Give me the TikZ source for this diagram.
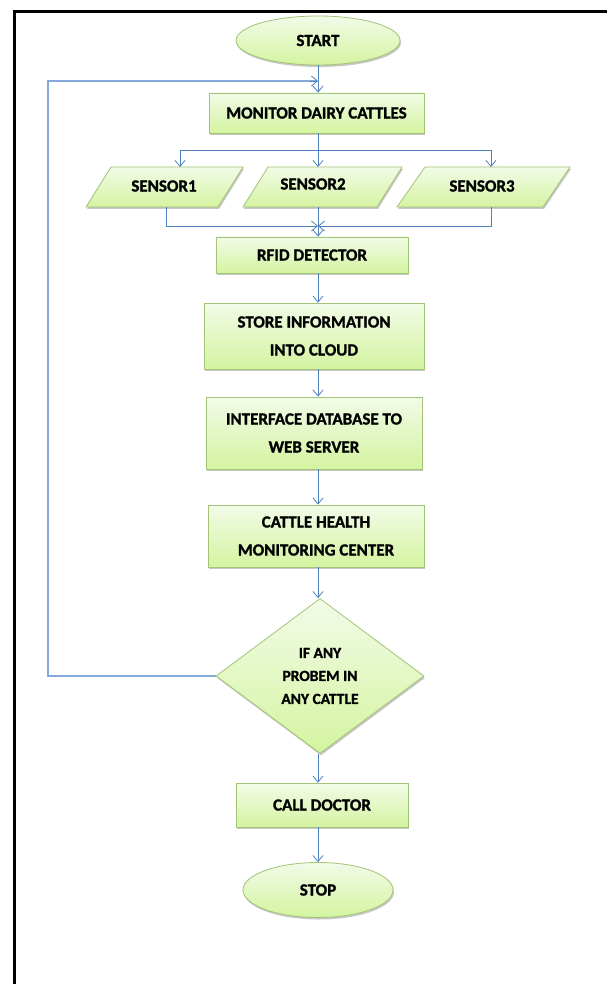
\documentclass[tikz,border=0pt]{standalone}
\usepackage{fontspec}
\setmainfont{Carlito}[BoldFeatures={FakeBold=1.2}]
\usetikzlibrary{arrows.meta,shapes.geometric,shadows}
\definecolor{gtop}{HTML}{F2FBE8}
\definecolor{gbot}{HTML}{D4F4A0}
\definecolor{gline}{HTML}{A3C476}
\definecolor{arr}{HTML}{4F81BD}
\definecolor{loopc}{HTML}{85A8DA}
\begin{document}
\begin{tikzpicture}[x=1pt,y=-1pt,
  shp/.style={draw=gline, line width=0.8pt, top color=gtop, bottom color=gbot,
    drop shadow={shadow xshift=1pt,shadow yshift=-2pt,opacity=0.22,fill=black}},
  box/.style={shp, rectangle, inner sep=0pt, align=center,
    font=\bfseries\fontsize{17}{28}\selectfont},
  oval/.style={shp, ellipse, inner sep=0pt, font=\bfseries\fontsize{17}{20}\selectfont},
  dec/.style={shp, diamond, inner sep=0pt, align=center,
    font=\bfseries\fontsize{15.5}{23}\selectfont},
  lbl/.style={inner sep=0pt, font=\bfseries\fontsize{17}{20}\selectfont},
  conn/.style={draw=arr, line width=0.8pt},
  arrowc/.style={conn, -{Straight Barb[length=6pt,width=10pt,line width=0.8pt]}},
  loopl/.style={draw=loopc, line width=1.2pt}
]
\useasboundingbox (0,0) rectangle (606,984);
\fill[white] (0,0) rectangle (606,984);
% frame
\draw[line width=3pt] (14.5,1000) -- (14.5,12) -- (620,12);

% nodes
\node[oval, minimum width=164pt, minimum height=49pt] (start) at (318,40.5) {START};
\node[box, minimum width=215pt, minimum height=40pt] (mon) at (316.5,113) {MONITOR DAIRY CATTLES};

\path[shp] (86,207) -- (218,207) -- (243,167) -- (111,167) -- cycle;
\path[shp] (243,207) -- (377,207) -- (402,167) -- (268,167) -- cycle;
\path[shp] (397,207) -- (543,207) -- (570,167) -- (425,167) -- cycle;
\node[lbl] (s1) at (164,186) {SENSOR1};
\node[lbl] (s2) at (313,184) {SENSOR2};
\node[lbl] (s3) at (482,186) {SENSOR3};

\node[box, minimum width=192pt, minimum height=36pt] (rfid) at (312,255) {RFID DETECTOR};
\node[box, minimum width=220pt, minimum height=66pt] (store) at (314,336) {STORE INFORMATION\\INTO CLOUD};
\node[box, minimum width=216pt, minimum height=72pt] (iface) at (314,433) {INTERFACE DATABASE TO\\WEB SERVER};
\node[box, minimum width=216pt, minimum height=62pt] (health) at (316,536) {CATTLE HEALTH\\MONITORING CENTER};
\node[dec, minimum width=208pt, minimum height=155pt] (cond) at (320,676) {IF ANY\\PROBEM IN\\ANY CATTLE};
\node[box, minimum width=172pt, minimum height=44pt] (doc) at (322,805) {CALL DOCTOR};
\node[oval, minimum width=150pt, minimum height=55pt] (stop) at (318,890) {STOP};

% coordinates
\coordinate (j) at (318,81);
\coordinate (lp) at (48,81);
\coordinate (b) at (318,150);
\coordinate (s1t) at (180,167);
\coordinate (s2t) at (318,167);
\coordinate (s3t) at (491,167);
\coordinate (s1b) at (166,207);
\coordinate (s2b) at (318,207);
\coordinate (s3b) at (491,207);
\coordinate (m) at (318,226);
\coordinate (ax) at (318,0);

% connectors
\draw[arrowc] (start.south -| ax) -- (mon.north -| ax);
\draw[loopl] (cond.west) -| (lp) -- ([xshift=-1pt]j);
\draw[arrowc] ([xshift=-8pt]j) -- (j);
\draw[conn] (mon.south -| ax) -- (b);
\draw[arrowc] (b) -| (s1t);
\draw[arrowc] (b) -- (s2t);
\draw[arrowc] (b) -| (s3t);
\draw[arrowc] (s1b) |- (m);
\draw[arrowc] (s3b) |- (m);
\draw[arrowc] (s2b) -- (rfid.north -| ax);
\draw[arrowc] (rfid.south -| ax) -- (store.north -| ax);
\draw[arrowc] (store.south -| ax) -- (iface.north -| ax);
\draw[arrowc] (iface.south -| ax) -- (health.north -| ax);
\draw[arrowc] (health.south -| ax) -- (cond.north -| ax);
\draw[arrowc] (cond.south -| ax) -- (doc.north -| ax);
\draw[arrowc] (doc.south -| ax) -- (stop.north -| ax);
\end{tikzpicture}
\end{document}
